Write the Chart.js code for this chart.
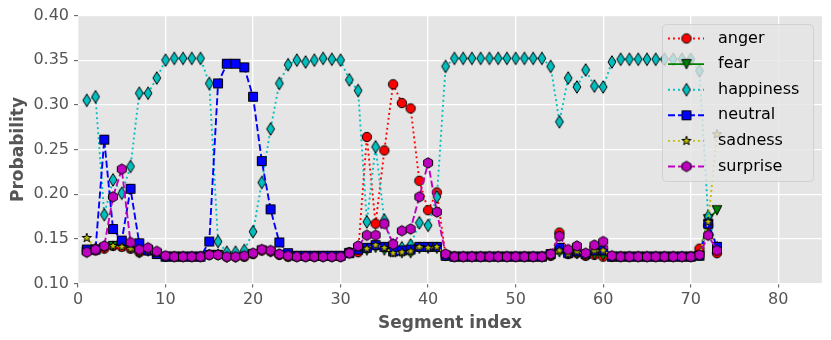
<!DOCTYPE html>
<html>
<head>
<meta charset="utf-8">
<script src="https://cdn.jsdelivr.net/npm/chart.js@4.4.0/dist/chart.umd.min.js"></script>
<style>
  html, body { margin: 0; padding: 0; background: #fff; }
  #wrap { width: 831px; height: 340px; position: relative; }
</style>
</head>
<body>
<div id="wrap"><canvas id="chart"></canvas></div>
<script>
// segment index on the x axis
const segments = [
  1, 2, 3, 4, 5, 6, 7, 8, 9, 10, 11, 12, 13, 14, 15, 16, 17, 18, 19, 20,
  21, 22, 23, 24, 25, 26, 27, 28, 29, 30, 31, 32, 33, 34, 35, 36, 37, 38, 39, 40,
  41, 42, 43, 44, 45, 46, 47, 48, 49, 50, 51, 52, 53, 54, 55, 56, 57, 58, 59, 60,
  61, 62, 63, 64, 65, 66, 67, 68, 69, 70, 71, 72, 73
];

const anger = [
  0.136,0.137,0.139,0.142,0.141,0.139,0.135,0.137,0.134,0.130,
  0.130,0.130,0.130,0.130,0.132,0.132,0.130,0.130,0.130,0.133,
  0.137,0.136,0.132,0.130,0.130,0.130,0.130,0.130,0.130,0.130,
  0.135,0.135,0.264,0.167,0.249,0.323,0.302,0.296,0.215,0.182,
  0.202,0.131,0.130,0.130,0.130,0.130,0.130,0.130,0.130,0.130,
  0.130,0.130,0.130,0.131,0.157,0.133,0.134,0.131,0.132,0.130,
  0.130,0.130,0.130,0.130,0.130,0.130,0.130,0.130,0.130,0.130,
  0.139,0.165,0.134
];
const fear = [
  0.135,0.138,0.140,0.142,0.143,0.139,0.134,0.136,0.133,0.130,
  0.130,0.130,0.130,0.130,0.132,0.132,0.129,0.129,0.130,0.133,
  0.137,0.135,0.132,0.130,0.130,0.130,0.130,0.130,0.130,0.130,
  0.134,0.138,0.137,0.140,0.137,0.135,0.134,0.134,0.139,0.139,
  0.139,0.131,0.130,0.130,0.130,0.130,0.130,0.130,0.130,0.130,
  0.130,0.130,0.130,0.131,0.135,0.133,0.133,0.131,0.132,0.131,
  0.130,0.130,0.130,0.130,0.130,0.130,0.130,0.130,0.130,0.130,
  0.131,0.172,0.182
];
const happiness = [
  0.305,0.309,0.177,0.216,0.201,0.231,0.313,0.313,0.330,0.350,
  0.352,0.352,0.352,0.352,0.324,0.147,0.135,0.135,0.137,0.158,
  0.213,0.273,0.324,0.345,0.350,0.348,0.350,0.352,0.351,0.350,
  0.328,0.316,0.169,0.253,0.171,0.143,0.140,0.143,0.168,0.165,
  0.197,0.343,0.352,0.352,0.352,0.352,0.352,0.352,0.352,0.352,
  0.352,0.352,0.352,0.343,0.281,0.330,0.320,0.339,0.321,0.320,
  0.348,0.351,0.351,0.351,0.351,0.351,0.351,0.351,0.351,0.351,
  0.338,0.175,0.140
];
const neutral = [
  0.138,0.138,0.261,0.161,0.148,0.206,0.145,0.137,0.133,0.130,
  0.130,0.130,0.130,0.130,0.147,0.324,0.346,0.346,0.342,0.309,
  0.237,0.183,0.146,0.134,0.131,0.131,0.131,0.131,0.131,0.131,
  0.134,0.138,0.140,0.143,0.141,0.136,0.137,0.138,0.141,0.141,
  0.141,0.131,0.130,0.130,0.130,0.130,0.130,0.130,0.130,0.130,
  0.130,0.130,0.130,0.133,0.140,0.134,0.136,0.133,0.137,0.137,
  0.130,0.130,0.130,0.130,0.130,0.130,0.130,0.130,0.130,0.130,
  0.131,0.167,0.141
];
const sadness = [
  0.151,0.140,0.141,0.142,0.141,0.139,0.135,0.137,0.134,0.130,
  0.130,0.130,0.130,0.130,0.133,0.133,0.130,0.130,0.130,0.133,
  0.138,0.136,0.133,0.130,0.130,0.130,0.130,0.130,0.130,0.130,
  0.135,0.140,0.139,0.143,0.140,0.134,0.135,0.136,0.141,0.140,
  0.141,0.131,0.130,0.130,0.130,0.130,0.130,0.130,0.130,0.130,
  0.130,0.130,0.130,0.131,0.137,0.133,0.136,0.131,0.137,0.137,
  0.130,0.130,0.130,0.130,0.130,0.130,0.130,0.130,0.130,0.130,
  0.131,0.169,0.267
];
const surprise = [
  0.135,0.138,0.142,0.197,0.228,0.146,0.138,0.140,0.136,0.131,
  0.130,0.130,0.130,0.130,0.132,0.132,0.130,0.130,0.131,0.134,
  0.138,0.137,0.133,0.131,0.130,0.130,0.130,0.130,0.130,0.130,
  0.134,0.142,0.154,0.154,0.167,0.144,0.159,0.161,0.197,0.235,
  0.180,0.133,0.130,0.130,0.130,0.130,0.130,0.130,0.130,0.130,
  0.130,0.130,0.130,0.133,0.153,0.138,0.142,0.134,0.143,0.147,
  0.131,0.130,0.130,0.130,0.130,0.130,0.130,0.130,0.130,0.130,
  0.132,0.154,0.137
];

const xTicks = [0, 10, 20, 30, 40, 50, 60, 70, 80];
const yTicks = [0.10, 0.15, 0.20, 0.25, 0.30, 0.35, 0.40];

// matplotlib-ish markers drawn on small canvases
function makeMarker(shape, fill) {
  const c = document.createElement('canvas');
  c.width = 16; c.height = 16;
  const g = c.getContext('2d');
  g.translate(8, 8);
  g.beginPath();
  if (shape === 'circle') {
    g.arc(0, 0, 4.7, 0, Math.PI * 2);
  } else if (shape === 'square') {
    g.rect(-4.5, -4.5, 9, 9);
  } else if (shape === 'tridown') {
    g.moveTo(0, 4.8); g.lineTo(-4.8, -4.6); g.lineTo(4.8, -4.6); g.closePath();
  } else if (shape === 'thindiamond') {
    g.moveTo(0, -6.3); g.lineTo(3.9, 0); g.lineTo(0, 6.3); g.lineTo(-3.9, 0); g.closePath();
  } else if (shape === 'star') {
    for (let k = 0; k < 10; k++) {
      const r = k % 2 ? 1.9 : 4.8;
      const a = -Math.PI / 2 + k * Math.PI / 5;
      k ? g.lineTo(r * Math.cos(a), r * Math.sin(a)) : g.moveTo(r * Math.cos(a), r * Math.sin(a));
    }
    g.closePath();
  } else if (shape === 'hexagon') {
    for (let k = 0; k < 6; k++) {
      const a = -Math.PI / 2 + k * Math.PI / 3;
      k ? g.lineTo(5.2 * Math.cos(a), 5.2 * Math.sin(a)) : g.moveTo(5.2 * Math.cos(a), 5.2 * Math.sin(a));
    }
    g.closePath();
  }
  g.fillStyle = fill;
  g.fill();
  g.lineWidth = 1;
  g.strokeStyle = '#000';
  g.stroke();
  return c;
}

const DOT = [1.9, 3.1];
const DASH = [7, 3];

function series(label, values, color, dash, shape, order) {
  return {
    label: label,
    data: segments.map((s, i) => ({ x: s, y: values[i] })),
    borderColor: color,
    backgroundColor: color,
    borderWidth: 1.9,
    borderDash: dash,
    pointStyle: makeMarker(shape, color),
    pointRadius: 5,
    pointHoverRadius: 5,
    tension: 0,
    fill: false,
    order: order
  };
}

// grey plot background like the ggplot style
const plotBg = {
  id: 'plotBg',
  beforeDraw(chart) {
    const a = chart.chartArea;
    const ctx = chart.ctx;
    ctx.save();
    ctx.fillStyle = '#E5E5E5';
    ctx.fillRect(a.left, a.top, a.right - a.left, a.bottom - a.top);
    ctx.restore();
  }
};

// legend box in the upper right, drawn over the data
const legendBox = {
  id: 'legendBox',
  afterDraw(chart) {
    const ctx = chart.ctx;
    const a = chart.chartArea;
    const bx = a.right - 159.5, by = a.top + 9, bw = 151, bh = 157;
    ctx.save();
    ctx.beginPath();
    ctx.roundRect(bx, by, bw, bh, 4);
    ctx.fillStyle = 'rgba(229,229,229,0.8)';
    ctx.fill();
    ctx.strokeStyle = 'rgba(204,204,204,0.8)';
    ctx.lineWidth = 1;
    ctx.stroke();
    chart.data.datasets.forEach((ds, i) => {
      const y = by + 14 + i * 25.6;
      ctx.save();
      ctx.beginPath();
      ctx.setLineDash(ds.borderDash);
      ctx.strokeStyle = ds.borderColor;
      ctx.lineWidth = ds.borderWidth;
      ctx.moveTo(bx + 5.5, y);
      ctx.lineTo(bx + 41.5, y);
      ctx.stroke();
      ctx.restore();
      ctx.drawImage(ds.pointStyle, bx + 24 - 8, y - 8);
      ctx.fillStyle = '#000';
      ctx.font = '16px "DejaVu Sans"';
      ctx.textBaseline = 'middle';
      ctx.textAlign = 'left';
      ctx.fillText(ds.label, bx + 55.5, y);
    });
    ctx.restore();
  }
};

new Chart(document.getElementById('chart'), {
  type: 'line',
  data: {
    datasets: [
      series('anger', anger, '#FF0000', DOT, 'circle', 6),
      series('fear', fear, '#008000', [], 'tridown', 5),
      series('happiness', happiness, '#00BFBF', DOT, 'thindiamond', 4),
      series('neutral', neutral, '#0000FF', DASH, 'square', 3),
      series('sadness', sadness, '#BFBF00', DOT, 'star', 2),
      series('surprise', surprise, '#BF00BF', DASH, 'hexagon', 1)
    ]
  },
  options: {
    responsive: true,
    maintainAspectRatio: false,
    animation: false,
    devicePixelRatio: 1,
    layout: { padding: { top: 15.5, right: 9, left: 0, bottom: 0 } },
    plugins: {
      legend: { display: false },
      tooltip: { enabled: false }
    },
    scales: {
      x: {
        type: 'linear',
        min: 0,
        max: 85,
        afterBuildTicks: s => { s.ticks = xTicks.map(v => ({ value: v })); },
        afterFit: s => { s.height = 56.5; },
        border: { display: false },
        grid: { color: '#FFFFFF', lineWidth: 1.3, tickColor: '#555555', tickLength: 4, tickWidth: 1 },
        ticks: { color: '#555555', font: { family: 'DejaVu Sans', size: 16 }, padding: 3, maxRotation: 0 },
        title: {
          display: true,
          text: 'Segment index',
          color: '#555555',
          font: { family: 'DejaVu Sans', size: 17, weight: 'bold' },
          padding: { bottom: 6, top: 0 }
        }
      },
      y: {
        min: 0.10,
        max: 0.40,
        afterBuildTicks: s => { s.ticks = yTicks.map(v => ({ value: v })); },
        afterFit: s => { s.width = 78; },
        border: { display: false },
        grid: { color: '#FFFFFF', lineWidth: 1.3, tickColor: '#555555', tickLength: 4, tickWidth: 1 },
        ticks: {
          color: '#555555',
          font: { family: 'DejaVu Sans', size: 16 },
          padding: 5,
          callback: v => Number(v).toFixed(2)
        },
        title: {
          display: true,
          text: 'Probability',
          color: '#555555',
          font: { family: 'DejaVu Sans', size: 17, weight: 'bold' },
          padding: { top: 8, bottom: 0 }
        }
      }
    }
  },
  plugins: [plotBg, legendBox]
});
</script>
</body>
</html>
